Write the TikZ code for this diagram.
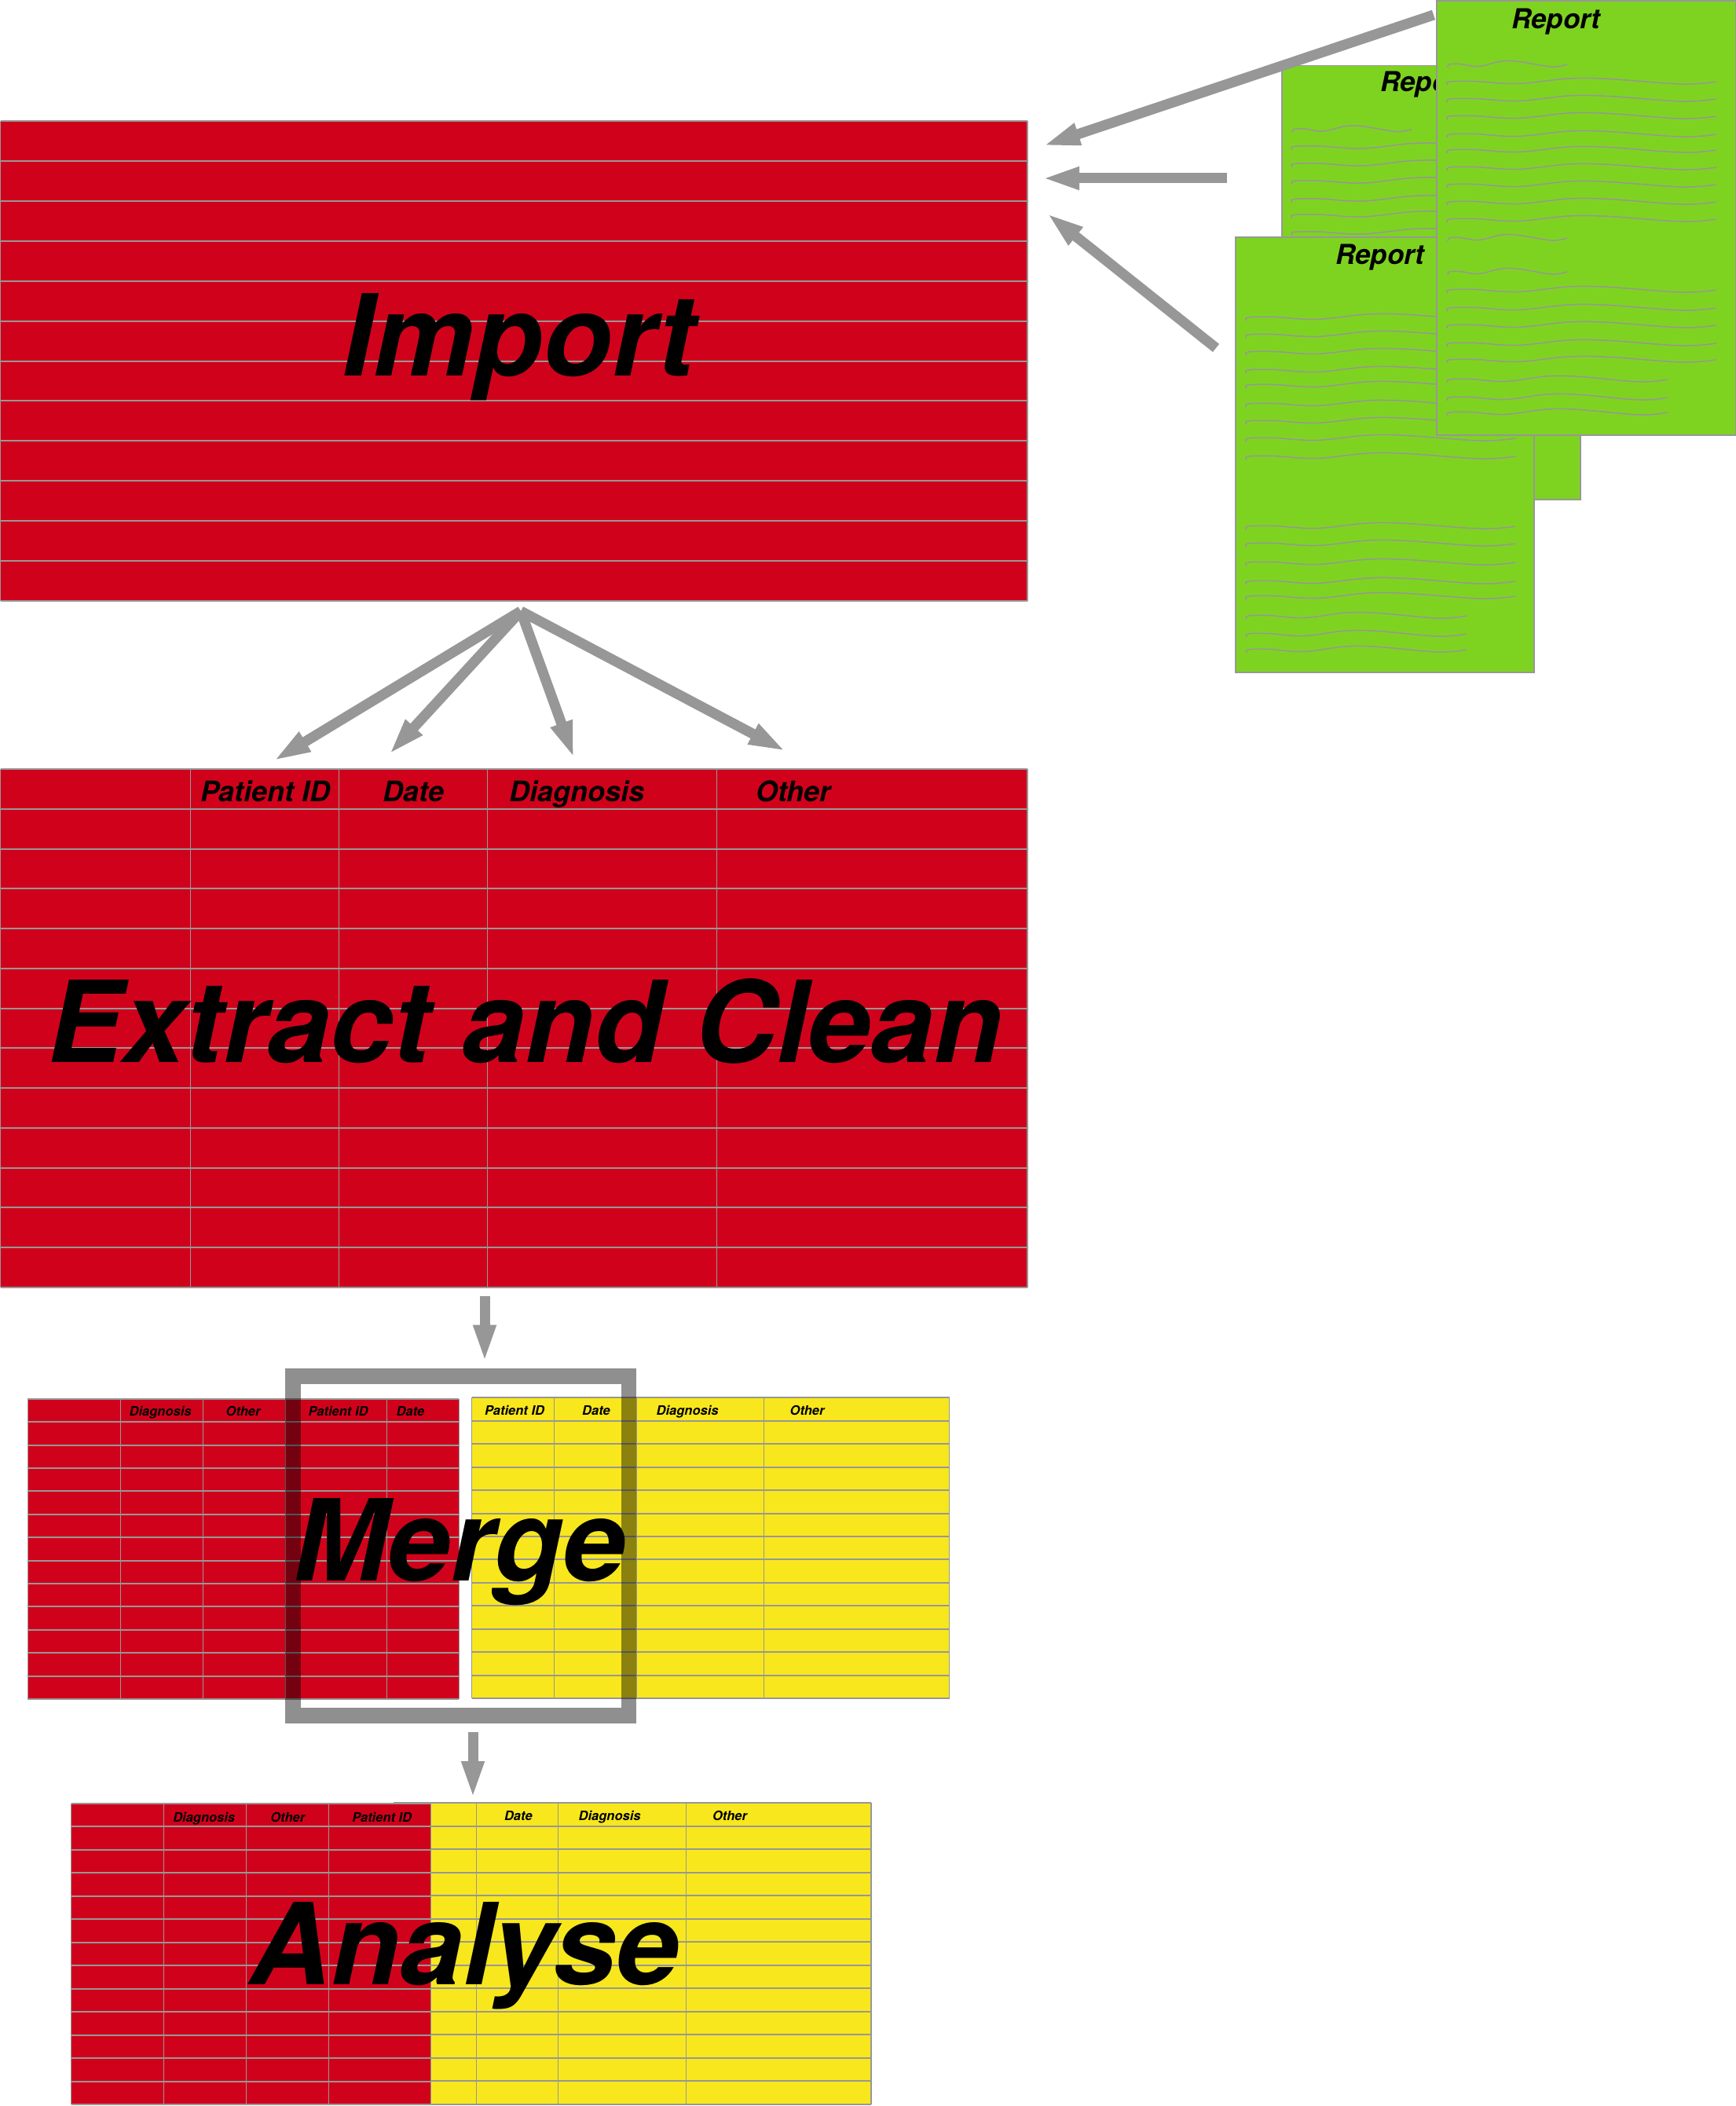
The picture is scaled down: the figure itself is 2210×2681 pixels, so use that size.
\documentclass[tikz,border=0pt]{standalone}
\usepackage{fontspec}
\setmainfont{TeX Gyre Heros}
\usetikzlibrary{arrows.meta}
\definecolor{skred}{HTML}{D0021B}
\definecolor{skgreen}{HTML}{7ED321}
\definecolor{skyellow}{HTML}{F8E71C}
\definecolor{skgray}{HTML}{979797}
\tikzset{
  rowline/.style={draw=skgray, line width=2pt},
  colline/.style={draw=skgray, line width=1.2pt},
  bigtxt/.style={anchor=base west, inner sep=0pt, font=\fontsize{144}{150}\selectfont\bfseries\itshape},
  hdr/.style={anchor=base west, inner sep=0pt, font=\fontsize{36}{40}\selectfont\bfseries\itshape},
  shdr/.style={anchor=base west, inner sep=0pt, font=\fontsize{16.5}{18}\selectfont\bfseries\itshape},
  rtitle/.style={anchor=base west, inner sep=0pt, font=\fontsize{35}{38}\selectfont\bfseries\itshape},
  flow/.style={draw=skgray, line width=13pt, -{Triangle[length=48pt,width=26pt]}},
  docsheet/.style={fill=skgreen, draw=skgray, line width=1.5pt},
  wave/.style={draw=skgray, line width=1.5pt},
  mergebox/.style={draw=black, draw opacity=0.44, line width=19.5pt},
}
% table body: x0,y0,x1,y1,rows,colour
\newcommand\rowsgrid[6]{%
  \fill[#6] (#1,#2) rectangle (#3,#4);
  \foreach \k in {0,...,#5}{\draw[rowline] (#1,{#2+(#4-#2)*\k/#5}) -- (#3,{#2+(#4-#2)*\k/#5});}
  \draw[colline] (#1,#2) -- (#1,#4) (#3,#2) -- (#3,#4);}
% columns: y0,y1,list of x
\newcommand\colsgrid[3]{\foreach \c in {#3}{\draw[colline] (\c,#1) -- (\c,#2);}}
% wavy text line: x0,y,length
\newcommand\wv[3]{\draw[wave] plot[smooth, tension=0.6] coordinates {(#1,#2+4) (#1+2,#2) (#1+0.1*#3,#2-0.5) (#1+0.26*#3,#2+2.5) (#1+0.45*#3,#2-4) (#1+0.6*#3,#2-3.5) (#1+0.87*#3,#2+3) (#1+#3,#2)};}
% document lines, full layout (with short lines): x0 = start, y0 = top of sheet
\newcommand\doclinesfull[2]{%
  \wv{#1}{#2+81}{152}
  \foreach \d in {103,125,147,170,190,212,234,256,278}{\wv{#1}{#2+\d}{342}}
  \wv{#1}{#2+302}{152}
  \wv{#1}{#2+345}{152}
  \foreach \d in {368,391,413,436,457}{\wv{#1}{#2+\d}{342}}
  \foreach \d in {482,505,524}{\wv{#1}{#2+\d}{280}}}
\newcommand\doclinesplain[2]{%
  \foreach \d in {102,124,146,169,188,212,234,256,279}{\wv{#1}{#2+\d}{342}}
  \foreach \d in {368,390,414,438,457}{\wv{#1}{#2+\d}{342}}
  \foreach \d in {482,505,525}{\wv{#1}{#2+\d}{280}}}
\begin{document}
\begin{tikzpicture}[x=1pt,y=-1pt]
\useasboundingbox (0,0) rectangle (2210,2681);
\fill[white] (0,0) rectangle (2210,2681);

% ---------- Import table ----------
\rowsgrid{0.6}{154}{1308}{765}{12}{skred}
\node[bigtxt] (import) at (435,478) {Import};

% ---------- Extract and Clean table ----------
\rowsgrid{0.6}{979}{1308}{1639}{13}{skred}
\colsgrid{979}{1639}{242.3,431.3,620.2,912.3}
\node[hdr] (h1) at (255,1020) {Patient ID};
\node[hdr] (h2) at (487,1020) {Date};
\node[hdr] (h3) at (648,1020) {Diagnosis};
\node[hdr] (h4) at (962,1020) {Other};
\node[bigtxt] (extract) at (60,1352.7) {Extract and Clean};

% ---------- Reports ----------
% sheet B (back)
\fill[docsheet] (1632,83.5) rectangle (2012,636);
\doclinesfull{1645}{83.5}
\node[rtitle] (repB) at (1757,117) {Report};
% sheet C (middle)
\fill[docsheet] (1573,302) rectangle (1953,856);
\doclinesplain{1587}{302}
\node[rtitle] (repC) at (1700,336) {Report};
% sheet A (front)
\fill[docsheet] (1829,0.8) rectangle (2209.3,554);
\doclinesfull{1843}{1}
\node[rtitle] (repA) at (1924,37) {Report};

% ---------- Merge ----------
\rowsgrid{35.3}{1780.7}{584.3}{2163}{13}{skred}
\colsgrid{1780.7}{2163}{153.3,258.3,363.3,492.7}
\node[shdr] (m1) at (164.5,1802.5) {Diagnosis};
\node[shdr] (m2) at (287.5,1802.5) {Other};
\node[shdr] (m3) at (392.5,1802.5) {Patient ID};
\node[shdr] (m4) at (504.5,1802.5) {Date};
\rowsgrid{600.7}{1779.3}{1208.5}{2162}{13}{skyellow}
\colsgrid{1779.3}{2162}{705.7,810.3,972.7}
\node[shdr] (m5) at (617,1801) {Patient ID};
\node[shdr] (m6) at (741,1801) {Date};
\node[shdr] (m7) at (835.5,1801) {Diagnosis};
\node[shdr] (m8) at (1005.5,1801) {Other};
\node[bigtxt] (merge) at (373,2012) {Merge};
\draw[mergebox] (373,1752) rectangle (800.7,2184);

% ---------- Analyse ----------
\rowsgrid{501.2}{2295}{1109}{2679}{13}{skyellow}
\colsgrid{2295}{2679}{606.2,710.8,873.2}
\node[shdr] (a4) at (641.8,2317.3) {Date};
\node[shdr] (a5) at (736.5,2317.3) {Diagnosis};
\node[shdr] (a6) at (906.9,2317.3) {Other};
\rowsgrid{90.8}{2296}{548.6}{2679}{13}{skred}
\colsgrid{2296}{2679}{208.8,313.8,418.8}
\node[shdr] (a1) at (220.1,2319) {Diagnosis};
\node[shdr] (a2) at (344.2,2319) {Other};
\node[shdr] (a3) at (448.1,2319) {Patient ID};
\node[bigtxt] (analyse) at (317,2526.7) {Analyse};

% ---------- connectors ----------
\coordinate (r1s) at (1825,19);   \coordinate (r1e) at (1327,186);
\coordinate (r2s) at (1562,227);  \coordinate (r2e) at (1326,227);
\coordinate (r3s) at (1548,443);  \coordinate (r3e) at (1332,271);
\draw[flow] (r1s) -- (r1e);
\draw[flow] (r2s) -- (r2e);
\draw[flow] (r3s) -- (r3e);

\coordinate (fan) at (663,778);
\coordinate (f1) at (347.5,969);
\coordinate (f2) at (494.7,961);
\coordinate (f3) at (731,966);
\coordinate (f4) at (1001,956.7);
\draw[flow] (fan) -- (f1);
\draw[flow] (fan) -- (f2);
\draw[flow] (fan) -- (f3);
\draw[flow] (fan) -- (f4);

\coordinate (em1) at (617,1649.6); \coordinate (em2) at (617,1734.7);
\draw[flow] (em1) -- (em2);
\coordinate (ma1) at (602,2205); \coordinate (ma2) at (602,2290);
\draw[flow] (ma1) -- (ma2);
\end{tikzpicture}
\end{document}
